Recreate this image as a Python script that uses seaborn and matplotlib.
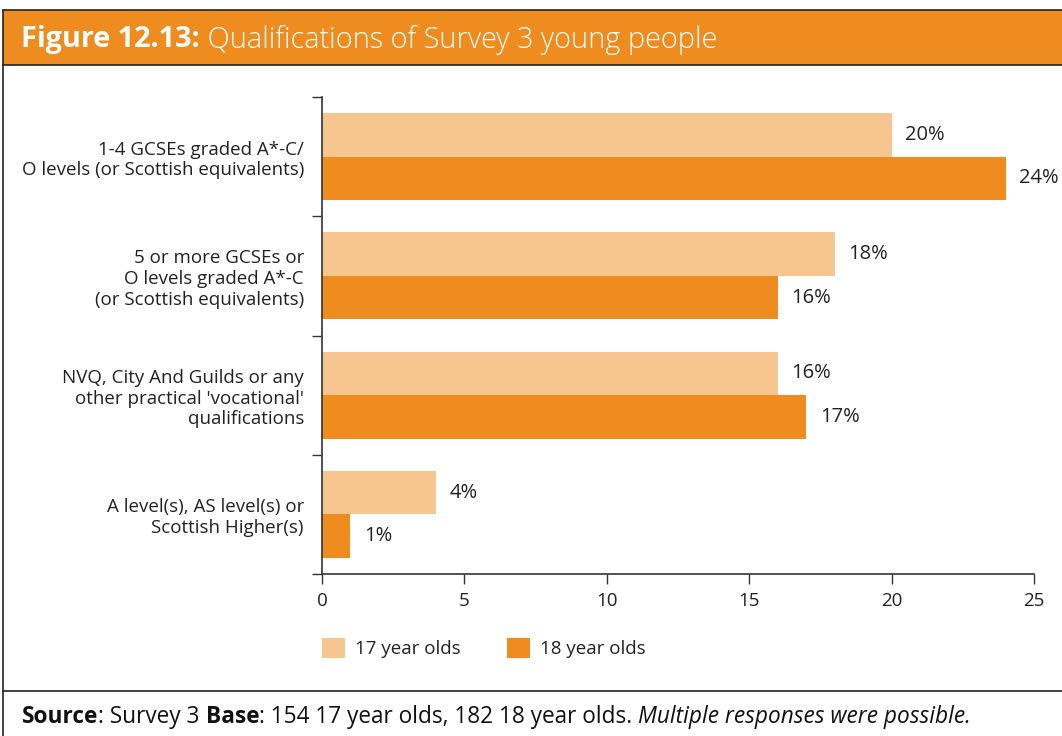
import matplotlib
matplotlib.use("Agg")
import matplotlib.pyplot as plt
import seaborn as sns
import pandas as pd
from matplotlib.patches import Rectangle, Patch
from matplotlib.lines import Line2D

categories = [
    "1-4 GCSEs graded A*-C/\nO levels (or Scottish equivalents)",
    "5 or more GCSEs or\nO levels graded A*-C\n(or Scottish equivalents)",
    "NVQ, City And Guilds or any\nother practical 'vocational'\nqualifications",
    "A level(s), AS level(s) or\nScottish Higher(s)",
]
series_names = ["17 year olds", "18 year olds"]
values_17 = [20, 18, 16, 4]
values_18 = [24, 16, 17, 1]
x_ticks = [0, 5, 10, 15, 20, 25]

colors = ["#F7C590", "#EF8C1F"]

df = pd.DataFrame({
    "category": categories * 2,
    "group": [series_names[0]] * 4 + [series_names[1]] * 4,
    "value": values_17 + values_18,
})

sns.set_style("white")
plt.rcParams["font.family"] = ["Open Sans", "DejaVu Sans"]

W, H = 1062, 736
fig = plt.figure(figsize=(W / 100, H / 100), dpi=100)
ax = fig.add_axes([322 / W, 1 - 574 / H, (1034 - 322) / W, (574 - 97) / H])

sns.barplot(data=df, y="category", x="value", hue="group", orient="h",
            palette=colors, width=0.73, ax=ax, legend=False, saturation=1)

for patch in ax.patches:
    patch.set_edgecolor("none")

FS = 13.5
ax.set_xlim(0, 25)
ax.set_ylim(3.5, -0.5)
ax.set_xticks(x_ticks)
ax.set_xticklabels([str(t) for t in x_ticks], fontsize=FS, color="#222222")
ax.tick_params(axis="x", which="major", bottom=True, direction="out", length=7.5,
               width=1, color="#333333", pad=5.5)
ax.set_yticks(range(len(categories)))
ax.set_yticklabels(categories, fontsize=FS, color="#222222", linespacing=1.2)
ax.tick_params(axis="y", which="major", left=True, length=0, pad=13)
ax.set_yticks([i - 0.5 for i in range(len(categories) + 1)], minor=True)
ax.tick_params(axis="y", which="minor", left=True, direction="out", length=7.5,
               width=1, color="#333333")
ax.set_xlabel("")
ax.set_ylabel("")
for s in ["top", "right"]:
    ax.spines[s].set_visible(False)
for s in ["left", "bottom"]:
    ax.spines[s].set_color("#333333")
    ax.spines[s].set_linewidth(1.2)

for container in ax.containers:
    ax.bar_label(container, labels=[f"{v:.0f}%" for v in container.datavalues],
                 padding=10, fontsize=14.5, color="#222222")

# legend
handles = [Patch(facecolor=c, edgecolor="none") for c in colors]
leg = fig.legend(handles, series_names, loc="center left",
                 bbox_to_anchor=(322 / W, 1 - 648 / H), ncol=2, frameon=False,
                 fontsize=FS, handlelength=1.23, handleheight=1.3,
                 columnspacing=2.45, handletextpad=0.53,
                 borderpad=0, borderaxespad=0)
for t in leg.get_texts():
    t.set_color("#222222")

# title bar and frame
fig.patches.append(Rectangle((3 / W, 1 - 65 / H), 1 - 3 / W, 55 / H,
                             transform=fig.transFigure, facecolor="#EF8C1F",
                             edgecolor="none", zorder=0))
line_kw = dict(transform=fig.transFigure, color="#222222", linewidth=1.2)
fig.add_artist(Line2D([3 / W, 1], [1 - 10 / H, 1 - 10 / H], **line_kw))
fig.add_artist(Line2D([3 / W, 1], [1 - 65 / H, 1 - 65 / H], **line_kw))
fig.add_artist(Line2D([3 / W, 3 / W], [0, 1 - 10 / H], **line_kw))
fig.add_artist(Line2D([3 / W, 1], [1 - 691 / H, 1 - 691 / H], **line_kw))

renderer = fig.canvas.get_renderer()


def run_text(parts, x0, y, size, color):
    x = x0
    for txt, kw in parts:
        t = fig.text(x / W, y, txt, fontsize=size, color=color, va="center", ha="left", **kw)
        bb = t.get_window_extent(renderer=renderer)
        x = bb.x1


run_text([("Figure 12.13:", dict(fontweight="bold")),
          (" Qualifications of Survey 3 young people", dict(fontweight="light"))],
         21, 1 - 40 / H, 20.8, "white")

run_text([("Source", dict(fontweight="bold")),
          (": Survey 3 ", {}),
          ("Base", dict(fontweight="bold")),
          (": 154 17 year olds, 182 18 year olds. ", {}),
          ("Multiple responses were possible.", dict(fontstyle="italic"))],
         22, 1 - 717 / H, 16.3, "#111111")

fig.savefig("out.png", dpi=100)
